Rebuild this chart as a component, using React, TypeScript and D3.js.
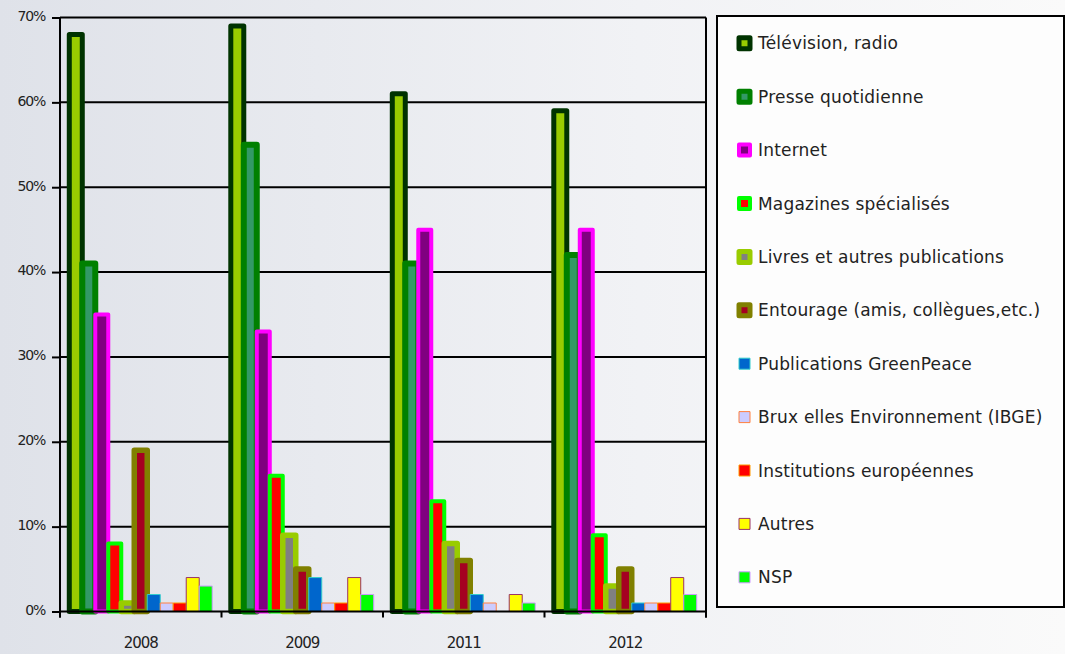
import React, { useRef, useEffect } from 'react';
import * as d3 from 'd3';

const years = ['2008', '2009', '2011', '2012'];

const seriesNames = [
    'Télévision, radio',
    'Presse quotidienne',
    'Internet',
    'Magazines spécialisés',
    'Livres et autres publications',
    'Entourage (amis, collègues,etc.)',
    'Publications GreenPeace',
    'Brux elles Environnement (IBGE)',
    'Institutions européennes',
    'Autres',
    'NSP',
];

// one array per series, values in % for 2008, 2009, 2011, 2012
const tvRadio = [68, 69, 61, 59];
const presse = [41, 55, 41, 42];
const internet = [35, 33, 45, 45];
const magazines = [8, 16, 13, 9];
const livres = [1, 9, 8, 3];
const entourage = [19, 5, 6, 5];
const greenpeace = [2, 4, 2, 1];
const bruxelles = [1, 1, 1, 1];
const institutions = [1, 1, 0, 1];
const autres = [4, 4, 2, 4];
const nsp = [3, 2, 1, 2];

const seriesValues = [tvRadio, presse, internet, magazines, livres, entourage, greenpeace, bruxelles, institutions, autres, nsp];

const fills = ['#99cc00', '#339966', '#800080', '#ff0000', '#808080', '#a50021', '#0066cc', '#ccccff', '#ff0000', '#ffff00', '#00ff00'];
const strokes = ['#003300', '#008000', '#ff00ff', '#00ff00', '#99cc00', '#808000', '#33cccc', '#ff8040', '#ff9900', '#993366', '#cc99ff'];
const strokeWidths = [5, 6, 4, 4, 5.5, 5.5, 1, 1, 1, 1, 1];

const yTicks = [0, 10, 20, 30, 40, 50, 60, 70];

const App: React.FC = () => {
    const svgRef = useRef<SVGSVGElement | null>(null);
    const width = 1065;
    const height = 654;
    const plot = { left: 60, right: 706, top: 17.5, bottom: 611.5 };

    useEffect(() => {
        if (!svgRef.current) return;
        const svg = d3.select(svgRef.current);
        svg.selectAll('*').remove();

        const defs = svg.append('defs');
        const grad = defs.append('linearGradient').attr('id', 'bg').attr('x1', 0).attr('x2', 1).attr('y1', 0).attr('y2', 0);
        grad.append('stop').attr('offset', '0%').attr('stop-color', '#dfe2e9');
        grad.append('stop').attr('offset', '60%').attr('stop-color', '#f1f2f5');
        grad.append('stop').attr('offset', '100%').attr('stop-color', '#fafafa');

        svg.append('rect').attr('width', width).attr('height', height).attr('fill', 'url(#bg)');

        const x0 = d3.scaleBand<string>().domain(years).range([plot.left, plot.right]).padding(0);
        const bw = x0.bandwidth();
        const groupW = bw * 0.885;
        const x1 = d3.scaleBand<string>().domain(seriesNames).range([(bw - groupW) / 2, (bw + groupW) / 2]).padding(0);

        const y = d3.scaleLinear().domain([0, 70]).range([plot.bottom, plot.top]);

        // grid lines
        svg.append('g')
            .selectAll('line')
            .data(yTicks.filter(t => t > 0))
            .join('line')
            .attr('x1', plot.left)
            .attr('x2', plot.right)
            .attr('y1', d => y(d))
            .attr('y2', d => y(d))
            .attr('stroke', '#000')
            .attr('stroke-width', 2);

        // bars, one series at a time so later ones sit on top
        seriesNames.forEach((name, si) => {
            svg.append('g')
                .selectAll('rect')
                .data(years.map((yr, i) => ({ yr, v: seriesValues[si][i] })))
                .join('rect')
                .filter(d => d.v > 0)
                .attr('x', d => (x0(d.yr) as number) + (x1(name) as number))
                .attr('y', d => y(d.v))
                .attr('width', x1.bandwidth())
                .attr('height', d => y(0) - y(d.v))
                .attr('fill', fills[si])
                .attr('stroke', strokes[si])
                .attr('stroke-width', strokeWidths[si])
                .attr('stroke-linejoin', 'round');
        });

        // right border of the plot
        svg.append('line')
            .attr('x1', plot.right).attr('x2', plot.right)
            .attr('y1', plot.top).attr('y2', plot.bottom + 6)
            .attr('stroke', '#000').attr('stroke-width', 2);

        // y axis
        const yAxis = svg.append('g')
            .attr('transform', `translate(${plot.left},0)`)
            .call(d3.axisLeft(y).tickValues(yTicks).tickSize(8).tickPadding(7).tickFormat(d => `${d}%`));
        yAxis.select('.domain').attr('stroke', '#000').attr('stroke-width', 2).attr('d', `M0,${plot.top}V${plot.bottom + 6}`);
        yAxis.selectAll('.tick line').attr('stroke', '#000').attr('stroke-width', 2);
        yAxis.selectAll('.tick text')
            .attr('fill', '#222')
            .attr('font-family', 'DejaVu Sans, sans-serif')
            .attr('font-size', 14)
            .attr('letter-spacing', -1.2)
            .attr('dy', '0.2em');

        // x axis
        const xAxis = svg.append('g')
            .attr('transform', `translate(0,${plot.bottom})`)
            .call(d3.axisBottom(x0).tickSize(0).tickPadding(26));
        xAxis.select('.domain').attr('stroke', '#000').attr('stroke-width', 2).attr('d', `M${plot.left},0H${plot.right}`);
        xAxis.selectAll('.tick text')
            .attr('fill', '#222')
            .attr('font-family', 'DejaVu Sans, sans-serif')
            .attr('font-size', 15)
            .attr('letter-spacing', -1);

        const edges = years.map(yr => x0(yr) as number).concat([plot.right]);
        svg.append('g')
            .selectAll('line')
            .data(edges)
            .join('line')
            .attr('x1', d => d).attr('x2', d => d)
            .attr('y1', plot.bottom).attr('y2', plot.bottom + 6)
            .attr('stroke', '#000').attr('stroke-width', 2);

        // legend
        const legend = svg.append('g');
        legend.append('rect')
            .attr('x', 717).attr('y', 16).attr('width', 347).attr('height', 591)
            .attr('fill', '#fdfdfd').attr('stroke', '#000').attr('stroke-width', 2);

        const ly = d3.scalePoint<string>().domain(seriesNames).range([43.3, 577.3]);
        const items = legend.selectAll('g.item')
            .data(seriesNames)
            .join('g')
            .attr('class', 'item')
            .attr('transform', d => `translate(0,${ly(d)})`);
        items.append('rect')
            .attr('x', 739).attr('y', -5.5).attr('width', 11).attr('height', 11)
            .attr('fill', (_, i) => fills[i])
            .attr('stroke', (_, i) => strokes[i])
            .attr('stroke-width', (_, i) => Math.min(strokeWidths[i], 5))
            .attr('stroke-linejoin', 'round');
        items.append('text')
            .attr('x', 758)
            .attr('dy', '0.36em')
            .attr('fill', '#222')
            .attr('font-family', 'DejaVu Sans, sans-serif')
            .attr('font-size', 17)
            .attr('letter-spacing', 0.2)
            .text(d => d);
    }, []);

    return (
        <svg
            ref={svgRef}
            width={width}
            height={height}
            style={{ position: 'absolute', left: 0, top: 0, display: 'block' }}
        />
    );
};

export default App;
